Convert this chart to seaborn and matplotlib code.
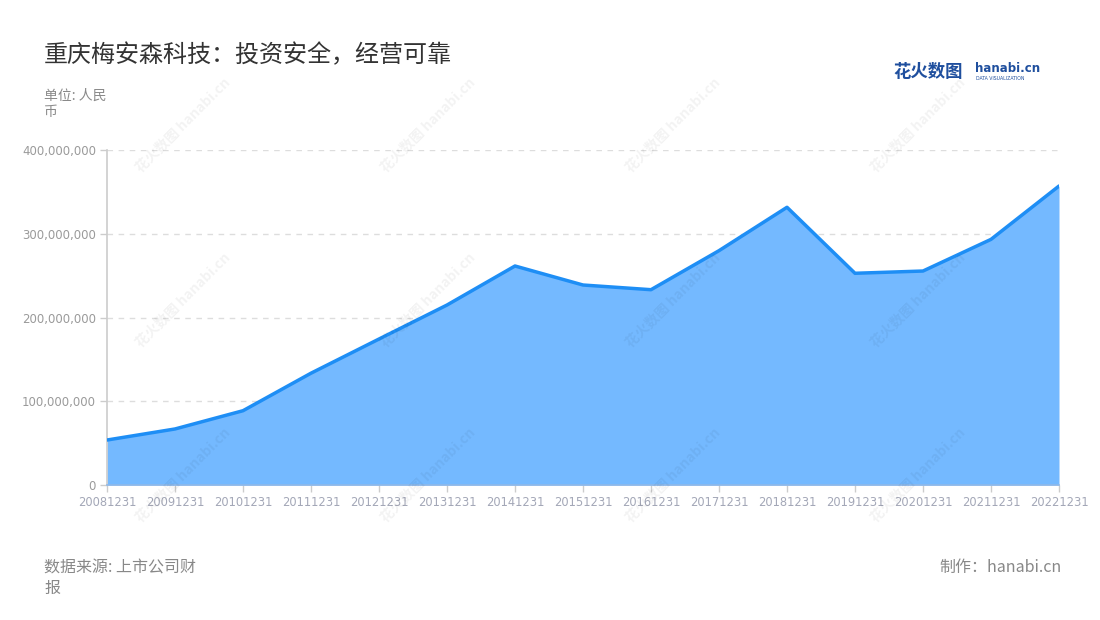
import matplotlib
matplotlib.use("Agg")
import matplotlib.pyplot as plt
import seaborn as sns
import pandas as pd
from matplotlib.ticker import FuncFormatter

# ---- data ----
dates = ["20081231", "20091231", "20101231", "20111231", "20121231",
         "20131231", "20141231", "20151231", "20161231", "20171231",
         "20181231", "20191231", "20201231", "20211231", "20221231"]
values = [53.7e6, 66.9e6, 88.7e6, 133.5e6, 174.3e6,
          214.9e6, 261.5e6, 238.8e6, 233.2e6, 279.8e6,
          331.6e6, 252.8e6, 255.5e6, 293.3e6, 357.0e6]
y_ticks = [0, 100e6, 200e6, 300e6, 400e6]

title = "重庆梅安森科技：投资安全，经营可靠"
unit_text = "单位: 人民\n币"
source_text = "数据来源: 上市公司财\n报"
maker_text = "制作：hanabi.cn"

df = pd.DataFrame({"date": dates, "value": values})

sns.set_theme(style="white")
plt.rcParams["font.family"] = ["Noto Sans CJK SC", "DejaVu Sans"]

W, H = 1100, 620
fig = plt.figure(figsize=(W / 100, H / 100), dpi=100)
ax = fig.add_axes([107 / W, 1 - 485 / H, (1059 - 107) / W, (485 - 150) / H])

line_color = "#1E8EF5"
fill_color = "#74B9FF"

ax.fill_between(df["date"], df["value"], 0, color=fill_color, linewidth=0, zorder=2)
sns.lineplot(data=df, x="date", y="value", ax=ax, color=line_color,
             linewidth=2.5, zorder=3, sort=False)

ax.set_xlim(0, len(dates) - 1)
ax.set_ylim(0, 400e6)
ax.set_yticks(y_ticks)
ax.yaxis.set_major_formatter(FuncFormatter(lambda v, p: f"{int(v):,}"))
ax.set_xlabel("")
ax.set_ylabel("")

for y in y_ticks[1:]:
    ax.axhline(y, color="#dddddd", linestyle=(0, (4, 4)), linewidth=1, zorder=1)

for s in ["top", "right"]:
    ax.spines[s].set_visible(False)
ax.spines["left"].set_color("#cccccc")
ax.spines["left"].set_linewidth(1.2)
ax.spines["bottom"].set_color("#8fb8e8")
ax.spines["bottom"].set_linewidth(1.2)

ax.tick_params(axis="y", which="major", length=5, width=1, color="#cccccc",
               labelsize=8.5, labelcolor="#9a9a9a", pad=3, left=True)
ax.tick_params(axis="x", which="major", length=5, width=1, color="#cccccc",
               labelsize=8.3, labelcolor="#a3a7b7", pad=3, bottom=True)
for lab in ax.get_xticklabels() + ax.get_yticklabels():
    lab.set_family(["DejaVu Sans"])
ax.set_facecolor("none")
ax.grid(False)

# ---- texts ----
fig.text(44 / W, 1 - 55 / H, title, fontsize=17.3, color="#333333",
         va="center", ha="left")
fig.text(44 / W, 1 - 104 / H, unit_text, fontsize=10, color="#8a8a8a",
         va="center", ha="left", linespacing=1.25)
fig.text(44 / W, 1 - 578 / H, source_text, fontsize=11.5, color="#888888",
         va="center", ha="left", linespacing=1.25)
fig.text(1062 / W, 1 - 567 / H, maker_text, fontsize=11.5, color="#888888",
         va="center", ha="right")

# logo
fig.text(893 / W, 1 - 72 / H, "花火数图", fontsize=12.5, color="#1f4f9e",
         fontweight="bold", va="center", ha="left")
fig.text(975 / W, 1 - 69 / H, "hanabi.cn", fontsize=8.5, color="#1f4f9e",
         fontweight="bold", va="center", ha="left", family=["DejaVu Sans"])
fig.text(976 / W, 1 - 79 / H, "DATA VISUALIZATION", fontsize=3.3, color="#1f4f9e",
         va="center", ha="left", family=["DejaVu Sans"])

# watermarks
for cx in [183, 428, 673, 918]:
    for cy in [125, 300, 475]:
        fig.text(cx / W, 1 - cy / H, "花火数图 hanabi.cn", fontsize=10,
                 fontweight="bold", color="#000000", alpha=0.05,
                 rotation=45, va="center", ha="center", zorder=10)

fig.savefig("out.png", dpi=100, facecolor="white")
